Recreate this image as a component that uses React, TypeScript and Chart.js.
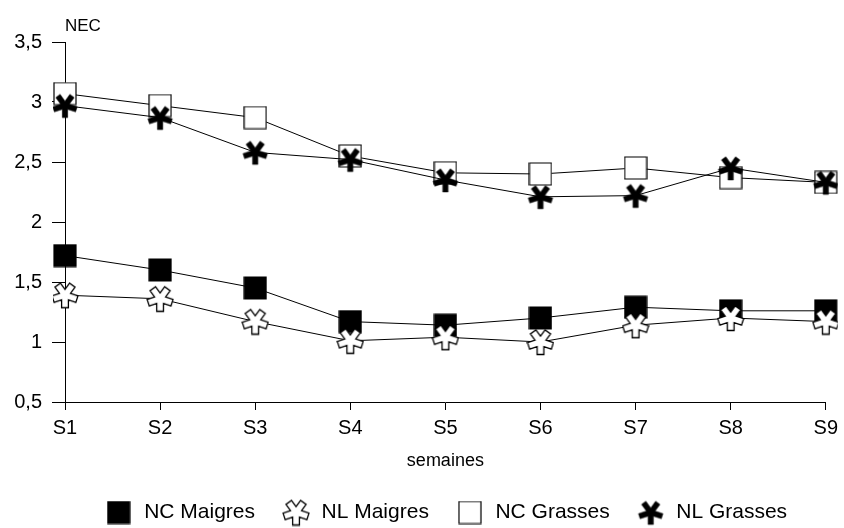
import React, { useEffect, useRef } from 'react';
import { Chart, registerables } from 'chart.js';

Chart.register(...registerables);

const weeks = ['S1', 'S2', 'S3', 'S4', 'S5', 'S6', 'S7', 'S8', 'S9'];
const ncMaigres = [1.72, 1.6, 1.45, 1.17, 1.14, 1.2, 1.29, 1.26, 1.26];
const nlMaigres = [1.39, 1.36, 1.17, 1.01, 1.04, 1.0, 1.14, 1.2, 1.17];
const ncGrasses = [3.07, 2.97, 2.87, 2.55, 2.41, 2.4, 2.45, 2.37, 2.33];
const nlGrasses = [2.97, 2.87, 2.58, 2.52, 2.35, 2.21, 2.22, 2.45, 2.33];
const seriesNames = ['NC Maigres', 'NL Maigres', 'NC Grasses', 'NL Grasses'];
const yTicks = [0.5, 1, 1.5, 2, 2.5, 3, 3.5];

const FONT = "'Liberation Sans', Arial, Helvetica, sans-serif";

function makeSquare(size: number, fill: string): HTMLCanvasElement {
  const c = document.createElement('canvas');
  c.width = size + 2;
  c.height = size + 2;
  const ctx = c.getContext('2d')!;
  ctx.fillStyle = fill;
  ctx.strokeStyle = '#000';
  ctx.lineWidth = 1.2;
  ctx.beginPath();
  ctx.rect(1, 1, size, size);
  ctx.fill();
  ctx.stroke();
  return c;
}

function makeAsterisk(size: number, L: number, w: number, fill: string, strokeW: number): HTMLCanvasElement {
  const c = document.createElement('canvas');
  c.width = size;
  c.height = size;
  const ctx = c.getContext('2d')!;
  const cx = size / 2;
  const cy = size / 2;
  const n = 5;
  const step = (2 * Math.PI) / n;
  const half = step / 2;
  const rIn = w / Math.sin(half);
  ctx.beginPath();
  for (let i = 0; i < n; i++) {
    const th = Math.PI + i * step;
    const dx = Math.sin(th);
    const dy = -Math.cos(th);
    const px = Math.cos(th);
    const py = Math.sin(th);
    const tx = cx + L * dx;
    const ty = cy + L * dy;
    if (i === 0) ctx.moveTo(tx - w * px, ty - w * py);
    else ctx.lineTo(tx - w * px, ty - w * py);
    ctx.lineTo(tx + w * px, ty + w * py);
    ctx.lineTo(cx + rIn * Math.sin(th + half), cy - rIn * Math.cos(th + half));
  }
  ctx.closePath();
  ctx.fillStyle = fill;
  ctx.fill();
  if (strokeW > 0) {
    ctx.strokeStyle = '#000';
    ctx.lineWidth = strokeW;
    ctx.lineJoin = 'miter';
    ctx.stroke();
  }
  return c;
}

const necLabel = {
  id: 'necLabel',
  afterDraw(chart: any) {
    const ctx = chart.ctx;
    ctx.save();
    ctx.font = `17px ${FONT}`;
    ctx.fillStyle = '#000';
    ctx.textAlign = 'left';
    ctx.textBaseline = 'middle';
    ctx.fillText('NEC', chart.chartArea.left, 26);
    ctx.restore();
  },
};

export default function App() {
  const ref = useRef<HTMLCanvasElement | null>(null);

  useEffect(() => {
    if (!ref.current) return;
    Chart.defaults.font.family = FONT;
    Chart.defaults.color = '#000';

    const sqBlack = makeSquare(22, '#000');
    const sqWhite = makeSquare(22, '#fff');
    const astBlack = makeAsterisk(28, 12, 2.7, '#000', 0.5);
    const astWhite = makeAsterisk(28, 12.5, 3.4, '#fff', 1.3);

    const styles = [sqBlack, astWhite, sqWhite, astBlack];
    const values = [ncMaigres, nlMaigres, ncGrasses, nlGrasses];
    const orders = [3, 1, 2, 0];

    const chart = new Chart(ref.current, {
      type: 'line',
      data: {
        labels: weeks,
        datasets: values.map((v, i) => ({
          label: seriesNames[i],
          data: v,
          borderColor: '#000',
          backgroundColor: '#000',
          borderWidth: 1,
          pointStyle: styles[i] as any,
          pointRadius: 11,
          tension: 0,
          order: orders[i],
        })),
      },
      plugins: [necLabel],
      options: {
        animation: false,
        responsive: false,
        events: [],
        layout: { padding: { top: 42, right: 14, left: 0, bottom: 0 } },
        plugins: {
          tooltip: { enabled: false },
          legend: {
            position: 'bottom',
            fullSize: false,
            maxHeight: 52,
            labels: {
              usePointStyle: true,
              pointStyleWidth: 30,
              padding: 26,
              color: '#000',
              font: { size: 21, family: FONT },
              sort: (a: any, b: any) => a.datasetIndex - b.datasetIndex,
            },
          } as any,
        },
        scales: {
          x: {
            type: 'category',
            offset: false,
            afterFit: (scale: any) => {
              scale.height = 74;
            },
            grid: {
              display: true,
              drawOnChartArea: false,
              drawTicks: true,
              tickLength: 8,
              color: '#000',
              offset: false,
            },
            border: { display: true, color: '#000', width: 1 },
            ticks: {
              color: '#000',
              padding: 6,
              font: { size: 20, family: FONT },
              maxRotation: 0,
            },
            title: {
              display: true,
              text: 'semaines',
              color: '#000',
              font: { size: 18, family: FONT },
              padding: { top: 2, bottom: 4 },
            },
          },
          y: {
            min: 0.5,
            max: 3.5,
            afterFit: (scale: any) => {
              scale.width = 65;
            },
            afterBuildTicks: (scale: any) => {
              scale.ticks = yTicks.map((v) => ({ value: v }));
            },
            grid: {
              display: true,
              drawOnChartArea: false,
              drawTicks: true,
              tickLength: 13,
              color: '#000',
            },
            border: { display: true, color: '#000', width: 1 },
            ticks: {
              color: '#000',
              padding: 10,
              font: { size: 20, family: FONT },
              callback: (v: any) => String(v).replace('.', ','),
            },
          },
        },
      },
    });
    return () => chart.destroy();
  }, []);

  return (
    <div style={{ position: 'fixed', left: 0, top: 0, width: 844, height: 528, background: '#fff' }}>
      <canvas ref={ref} width={844} height={528} style={{ width: 844, height: 528, display: 'block' }} />
    </div>
  );
}
